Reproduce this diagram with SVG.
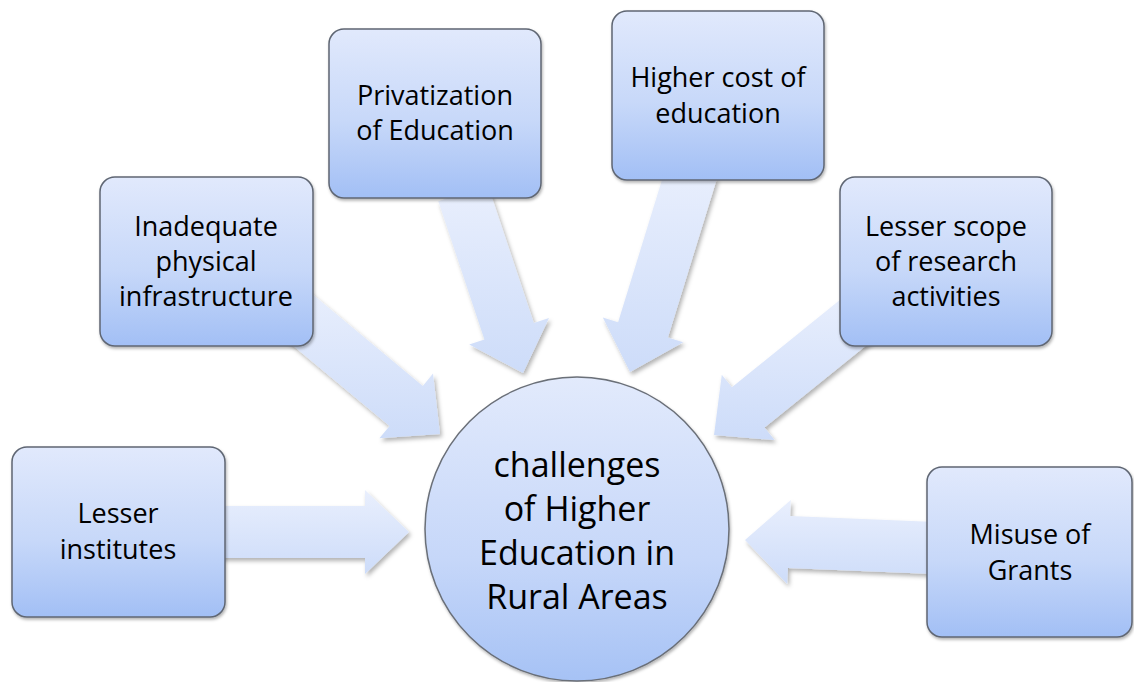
<svg xmlns="http://www.w3.org/2000/svg" width="1134" height="682" viewBox="0 0 1134 682">
<defs>
<linearGradient id="gBox" x1="0" y1="0" x2="0" y2="1">
<stop offset="0" stop-color="#e1e9fc"/>
<stop offset="0.55" stop-color="#c7d8f9"/>
<stop offset="1" stop-color="#a2bff5"/>
</linearGradient>
<linearGradient id="gCircle" x1="0" y1="0" x2="0" y2="1">
<stop offset="0" stop-color="#e2eafc"/>
<stop offset="0.6" stop-color="#c6d7f9"/>
<stop offset="1" stop-color="#a6c2f5"/>
</linearGradient>
<linearGradient id="gArrow" x1="0" y1="0" x2="0" y2="1">
<stop offset="0" stop-color="#e9effd"/>
<stop offset="1" stop-color="#cddcf9"/>
</linearGradient>
<filter id="shArrow" x="-20%" y="-20%" width="140%" height="140%">
<feDropShadow dx="2" dy="3" stdDeviation="2" flood-color="#000" flood-opacity="0.3"/>
</filter>
<filter id="shBox" x="-10%" y="-10%" width="120%" height="120%">
<feDropShadow dx="1" dy="2" stdDeviation="1.5" flood-color="#000" flood-opacity="0.3"/>
</filter>
</defs>
<style>
.box{fill:url(#gBox);stroke:#5f6673;stroke-width:1.5;filter:url(#shBox)}
.circ{fill:url(#gCircle);stroke:#6a6f78;stroke-width:1.5;filter:url(#shBox)}
.arrow{fill:url(#gArrow);stroke:none;filter:url(#shArrow)}
.t{font-family:"Open Sans","Liberation Sans",sans-serif;font-size:27px;fill:#000;text-anchor:middle}
.tc{font-family:"Open Sans","Liberation Sans",sans-serif;font-size:34px;fill:#000;text-anchor:middle}
</style>
<rect width="1134" height="682" fill="#fff"/>
<g id="connectors">
<polygon class="arrow" points="215,506 365,506 365,490 409,532 365,574 365,558 215,558"/>
<polygon class="arrow" points="302.6,286 422.8,385.9 433,373.6 440,434 379.4,438.2 389.6,425.9 269.4,326"/>
<polygon class="arrow" points="487.7,184.8 533.8,323 549,317.9 523,373 469.2,344.5 484.4,339.4 438.3,201.2"/>
<polygon class="arrow" points="716.9,178.7 667.9,337.6 683.2,342.3 630,372 602.8,317.5 618.1,322.2 667.1,163.3"/>
<polygon class="arrow" points="886.3,329.2 764.5,427.6 774.6,440.1 714,435 721.8,374.7 731.9,387.2 853.7,288.8"/>
<polygon class="arrow" points="933.9,574 787.9,567.9 787.2,583.9 745,540 790.8,499.9 790.1,515.9 936.1,522"/>
</g>
<g id="center">
<circle class="circ" cx="577" cy="529" r="152"/>
<text class="tc" x="577" y="477">challenges</text>
<text class="tc" x="577" y="521">of Higher</text>
<text class="tc" x="577" y="565">Education in</text>
<text class="tc" x="577" y="609">Rural Areas</text>
</g>
<g id="lesser-institutes">
<rect class="box" x="12" y="447" width="213" height="170" rx="15"/>
<text class="t" x="118" y="523">Lesser</text>
<text class="t" x="118" y="559">institutes</text>
</g>
<g id="inadequate">
<rect class="box" x="100" y="177" width="213" height="169" rx="15"/>
<text class="t" x="206" y="236">Inadequate</text>
<text class="t" x="206" y="271">physical</text>
<text class="t" x="206" y="306">infrastructure</text>
</g>
<g id="privatization">
<rect class="box" x="329" y="29" width="212" height="169" rx="15"/>
<text class="t" x="435" y="105">Privatization</text>
<text class="t" x="435" y="140">of Education</text>
</g>
<g id="higher-cost">
<rect class="box" x="612" y="11" width="212" height="169" rx="15"/>
<text class="t" x="718" y="87">Higher cost of</text>
<text class="t" x="718" y="123">education</text>
</g>
<g id="lesser-scope">
<rect class="box" x="840" y="177" width="212" height="169" rx="15"/>
<text class="t" x="946" y="236">Lesser scope</text>
<text class="t" x="946" y="271">of research</text>
<text class="t" x="946" y="306">activities</text>
</g>
<g id="misuse">
<rect class="box" x="927" y="467" width="205" height="170" rx="15"/>
<text class="t" x="1030" y="544">Misuse of</text>
<text class="t" x="1030" y="580">Grants</text>
</g>
</svg>
